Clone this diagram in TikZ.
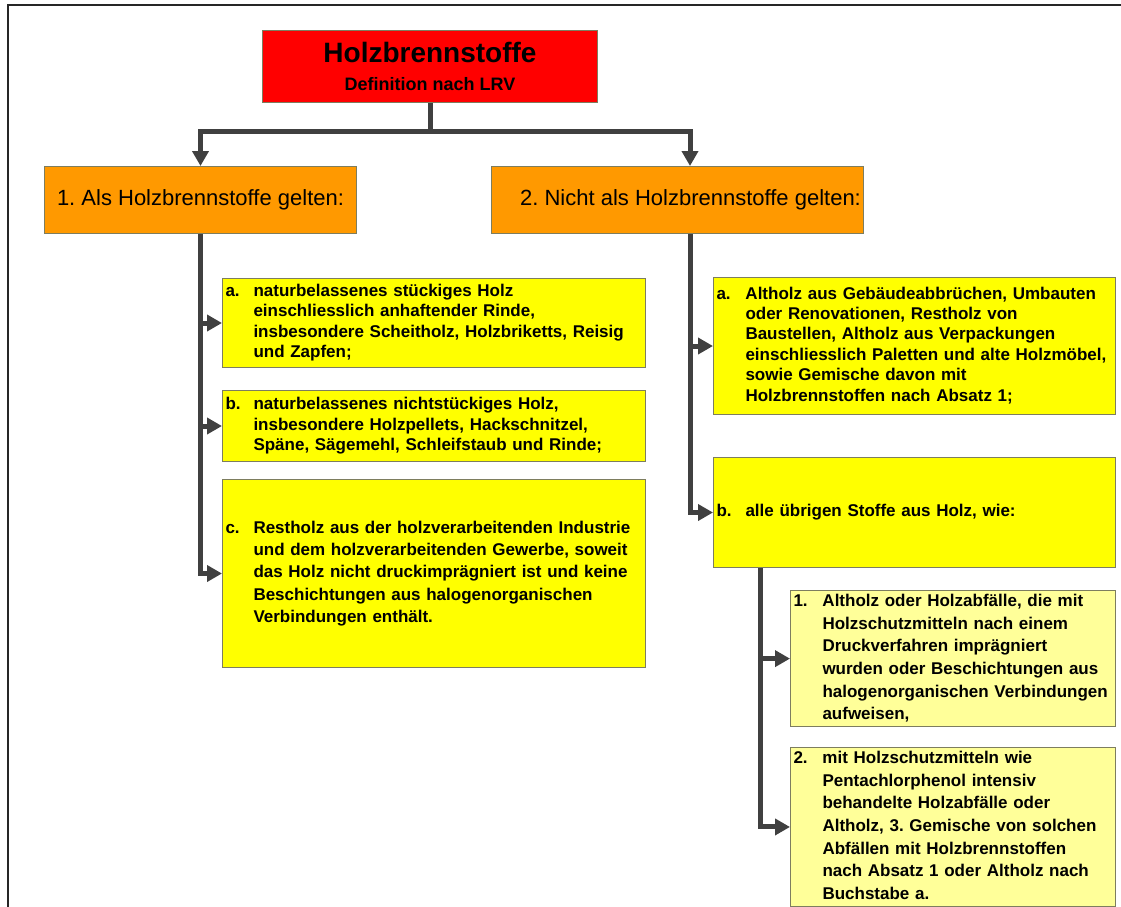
\documentclass[tikz,border=0pt]{standalone}
\usepackage{fontspec}
\setmainfont{Liberation Sans}
\usetikzlibrary{arrows.meta}
\definecolor{lrvred}{RGB}{255,0,0}
\definecolor{lrvorange}{RGB}{255,153,0}
\definecolor{lrvyellow}{RGB}{255,255,0}
\definecolor{lrvpale}{RGB}{255,255,153}
\definecolor{lrvline}{RGB}{64,64,64}
\definecolor{lrvborder}{RGB}{125,125,95}
\newcommand{\entry}[3]{\makebox[#1][l]{#2}\begin{tabular}[t]{@{}l@{}}#3\end{tabular}}
\frenchspacing

\begin{document}
\begin{tikzpicture}[x=1pt, y=-1pt,
    box/.style={draw=lrvborder, line width=1pt, inner sep=0pt, anchor=north west},
    item/.style={box, fill=lrvyellow, inner xsep=3pt, align=left},
    itemfont/.style={font=\bfseries\fontsize{17}{#1}\selectfont},
    trunk/.style={line width=5pt, lrvline},
    conn/.style={trunk, -{Triangle[length=15pt,width=16pt]}}]
    \useasboundingbox (0,0) rectangle (1121,906);
    % frame
    \draw[line width=2.5pt, black!85] (8,912) |- (1126,5);
    % head
    \node[box, fill=lrvred, minimum width=335pt, minimum height=72pt, align=center] (title) at (262,30)
        {{\bfseries\fontsize{28}{30}\selectfont Holzbrennstoffe}\\[14pt]{\bfseries\fontsize{18}{20}\selectfont Definition nach LRV}};
    \node[box, fill=lrvorange, minimum width=312pt, minimum height=67pt, font=\fontsize{22}{26}\selectfont] (o1) at (44,166) {1. Als Holzbrennstoffe gelten:};
    \node[box, fill=lrvorange, minimum width=372pt, minimum height=67pt, font=\fontsize{22}{26}\selectfont] (o2) at (491,166) {\hspace*{26pt}2. Nicht als Holzbrennstoffe gelten:};
    % left column
    \node[item, itemfont=20.3, text width=417pt, minimum height=89pt] (la) at (222,278)
        {\entry{28pt}{a.}{naturbelassenes stückiges Holz\\einschliesslich anhaftender Rinde,\\insbesondere Scheitholz, Holzbriketts, Reisig\\und Zapfen;}};
    \node[item, itemfont=20.5, text width=417pt, minimum height=71pt] (lb) at (222,390)
        {\entry{28pt}{b.}{naturbelassenes nichtstückiges Holz,\\insbesondere Holzpellets, Hackschnitzel,\\Späne, Sägemehl, Schleifstaub und Rinde;}};
    \node[item, itemfont=22.2, text width=417pt, minimum height=188pt] (lc) at (222,479)
        {\entry{28pt}{c.}{Restholz aus der holzverarbeitenden Industrie\\und dem holzverarbeitenden Gewerbe, soweit\\das Holz nicht druckimprägniert ist und keine\\Beschichtungen aus halogenorganischen\\Verbindungen enthält.}};
    % right column
    \node[item, itemfont=20.4, text width=396pt, minimum height=137pt] (ra) at (713,277)
        {\entry{29pt}{a.}{Altholz aus Gebäudeabbrüchen, Umbauten\\oder Renovationen, Restholz von\\Baustellen, Altholz aus Verpackungen\\einschliesslich Paletten und alte Holzmöbel,\\sowie Gemische davon mit\\Holzbrennstoffen nach Absatz 1;}};
    \node[item, itemfont=20.4, text width=396pt, minimum height=110pt] (rb) at (713,457)
        {\entry{29pt}{b.}{alle übrigen Stoffe aus Holz, wie:}};
    \node[item, fill=lrvpale, itemfont=22.7, text width=319pt, minimum height=135pt] (r1) at (790,590)
        {\entry{29pt}{1.}{Altholz oder Holzabfälle, die mit\\Holzschutzmitteln nach einem\\Druckverfahren imprägniert\\wurden oder Beschichtungen aus\\halogenorganischen Verbindungen\\aufweisen,}};
    \node[item, fill=lrvpale, itemfont=22.7, text width=319pt, minimum height=156pt] (r2) at (790,747)
        {\entry{29pt}{2.}{mit Holzschutzmitteln wie\\Pentachlorphenol intensiv\\behandelte Holzabfälle oder\\Altholz, 3. Gemische von solchen\\Abfällen mit Holzbrennstoffen\\nach Absatz 1 oder Altholz nach\\Buchstabe a.}};
    % connectors
    \coordinate (bar) at (430,131);
    \coordinate (rx) at (690,0);
    \coordinate (sx) at (760,0);
    \draw[trunk] (title.south) -- (bar);
    \draw[conn] (bar) -| (o1.north);
    \draw[conn] (bar) -| (o2.north -| rx);
    \draw[conn] (o1.south) |- (lc.west);
    \draw[conn] (o1.south |- la.west) -- (la.west);
    \draw[conn] (o1.south |- lb.west) -- (lb.west);
    \draw[conn] (o2.south -| rx) |- (rb.west);
    \draw[conn] (rx |- ra.west) -- (ra.west);
    \draw[conn] (rb.south -| sx) |- (r2.west);
    \draw[conn] (sx |- r1.west) -- (r1.west);
\end{tikzpicture}
\end{document}
